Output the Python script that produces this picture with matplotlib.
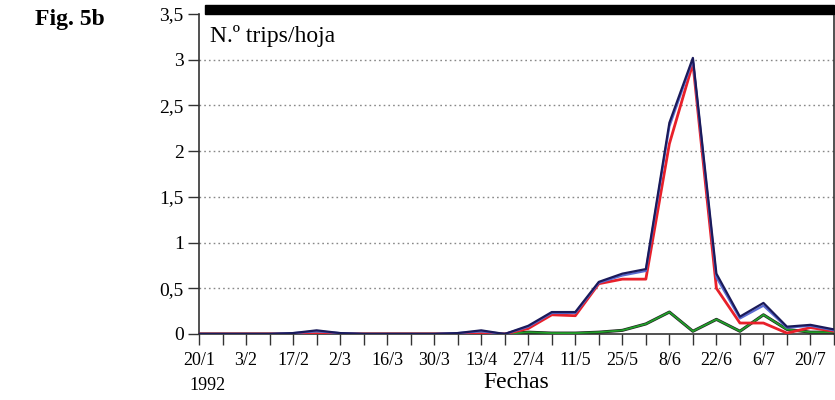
import matplotlib
matplotlib.use("Agg")
import matplotlib.pyplot as plt
from matplotlib.patches import Rectangle

plt.rcParams["font.family"] = ["Liberation Serif", "DejaVu Serif"]

# fechas de muestreo semanales (1992)
fechas = ["20/1", "27/1", "3/2", "10/2", "17/2", "24/2", "2/3", "9/3", "16/3", "23/3",
          "30/3", "6/4", "13/4", "20/4", "27/4", "4/5", "11/5", "18/5", "25/5", "1/6",
          "8/6", "15/6", "22/6", "29/6", "6/7", "13/7", "20/7", "27/7"]

# N.º trips por hoja
total = [0, 0, 0, 0, 0.01, 0.04, 0.01, 0, 0, 0, 0, 0.01, 0.04, 0.0,
         0.09, 0.24, 0.24, 0.57, 0.66, 0.71, 2.31, 3.02, 0.66, 0.19, 0.34, 0.08, 0.10, 0.05]
serie_azul = [0, 0, 0, 0, 0.01, 0.03, 0.01, 0, 0, 0, 0, 0.01, 0.03, 0.0,
              0.08, 0.23, 0.23, 0.56, 0.64, 0.69, 2.27, 3.00, 0.62, 0.17, 0.31, 0.07, 0.09, 0.04]
serie_roja = [0, 0, 0, 0, 0, 0, 0, 0, 0, 0, 0, 0, 0, 0.0,
              0.06, 0.21, 0.20, 0.55, 0.60, 0.60, 2.08, 2.96, 0.50, 0.12, 0.12, 0.01, 0.07, 0.03]
serie_verde = [0, 0, 0, 0, 0, 0, 0, 0, 0, 0, 0, 0, 0, 0.0,
               0.02, 0.01, 0.01, 0.02, 0.04, 0.11, 0.24, 0.03, 0.16, 0.03, 0.21, 0.05, 0.02, 0.02]

semanas = list(range(len(fechas)))

fig = plt.figure(figsize=(8.35, 4.0), dpi=100)
ax = fig.add_axes([199 / 835, 66 / 400, 635 / 835, 320 / 400])

# lineas
ax.plot(semanas, serie_verde, color="#1f1f1f", lw=2.2, zorder=3)
ax.plot(semanas, serie_verde, color="#22a02a", lw=1.3, zorder=4)
ax.plot(semanas, serie_roja, color="#e8202a", lw=2.0, zorder=5)
ax.plot(semanas, serie_azul, color="#5a6ad0", lw=1.6, zorder=6)
ax.plot(semanas, total, color="#1a1a5a", lw=1.6, zorder=7)

ax.set_xlim(0, 27)
ax.set_ylim(0, 3.5)

yt = [0, 0.5, 1, 1.5, 2, 2.5, 3, 3.5]
ax.set_yticks(yt)
ax.set_yticklabels([f"{v:g}".replace(".", ",") for v in yt], fontsize=14)
ax.set_xticks(semanas)
ax.set_xticklabels([f if i % 2 == 0 and i < 27 else "" for i, f in enumerate(fechas)], fontsize=13)
ax.tick_params(axis="both", direction="out", length=8, width=1.0, color="#333333")
ax.tick_params(axis="y", pad=3)
ax.tick_params(axis="x", pad=5)

for v in yt[1:-1]:
    ax.axhline(v, color="#888888", lw=1.0, ls=(0, (1.2, 2.2)), zorder=1)

for s in ["left", "bottom", "right"]:
    ax.spines[s].set_color("#333333")
    ax.spines[s].set_linewidth(1.2)
ax.spines["top"].set_visible(False)

# barra negra superior
ax.add_patch(Rectangle((6 / 635, 1.0), 1 - 6 / 635, 9 / 320, transform=ax.transAxes,
                       color="black", clip_on=False, zorder=10))

ax.text(0.017, 0.965, "N.º trips/hoja", transform=ax.transAxes, fontsize=17,
        ha="left", va="top")
ax.set_xlabel("Fechas", fontsize=17, labelpad=2)
fig.text(207 / 835, 1 - 386 / 400, "1992", fontsize=13, ha="center", va="center")
fig.text(35 / 835, 1 - 20 / 400, "Fig. 5b", fontsize=17, fontweight="bold",
         ha="left", va="center")

fig.savefig("out.png", dpi=100)
